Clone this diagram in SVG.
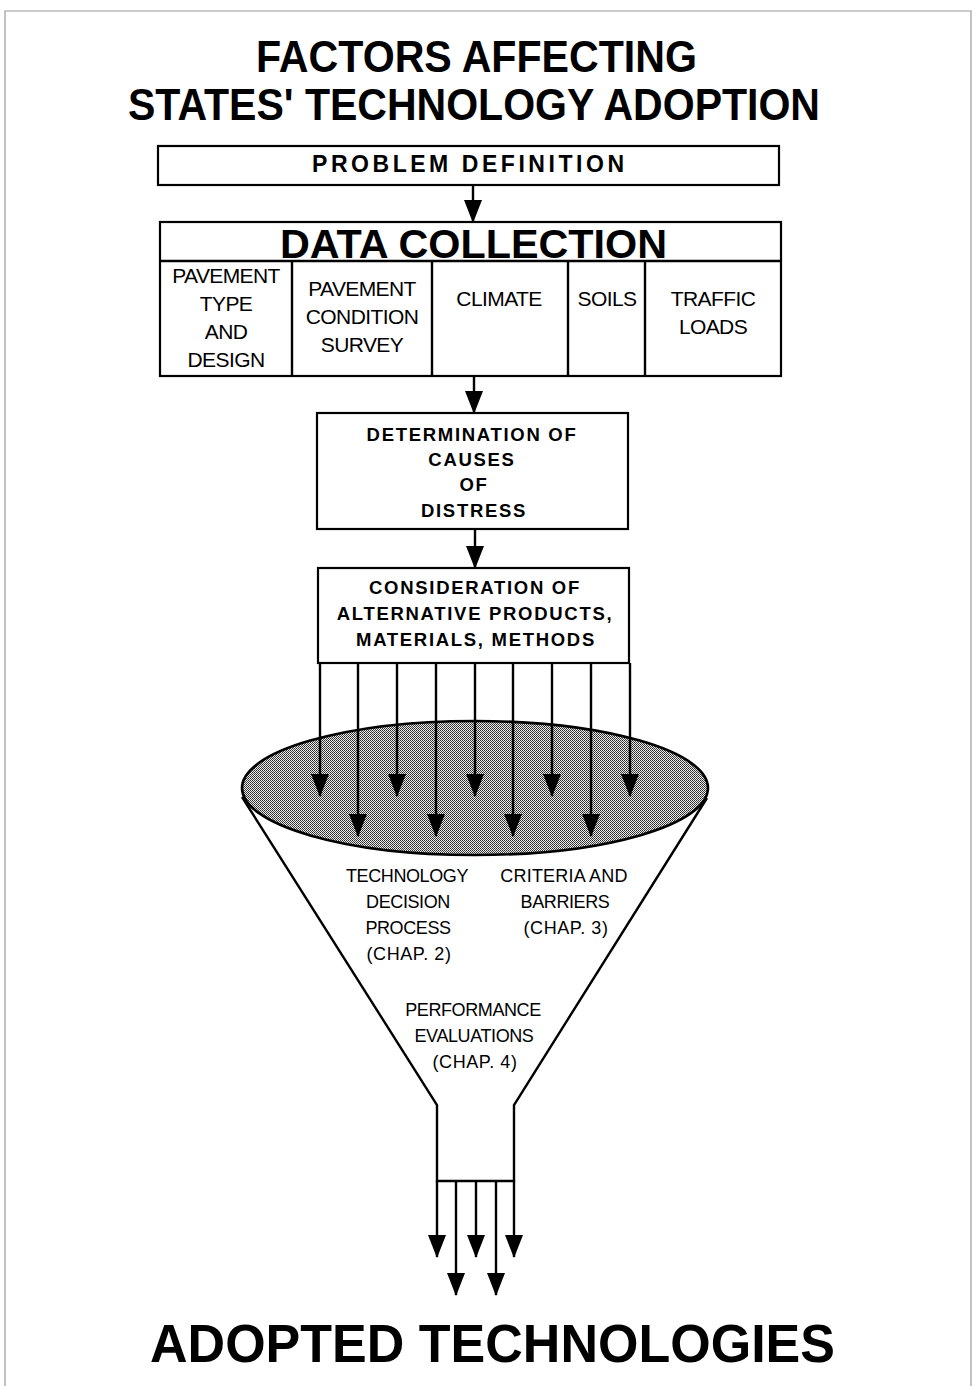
<svg xmlns="http://www.w3.org/2000/svg" width="972" height="1386" viewBox="0 0 972 1386">
<style>
.box{fill:#fff;stroke:#000;stroke-width:2.2}
.ln{stroke:#000;stroke-width:2.4;fill:none}
.sans{font-family:"Liberation Sans",Arial,Helvetica,sans-serif;fill:#000}
.b{font-weight:bold}
.cell{font-size:21px;letter-spacing:-0.6px;text-anchor:middle}
.sm{font-size:18.5px;font-weight:bold;letter-spacing:1.7px;text-anchor:middle}
.fn{font-size:18px;letter-spacing:-0.4px;text-anchor:middle}
.big{text-anchor:middle;font-weight:bold}
</style>
<defs>
<marker id="ah" markerUnits="userSpaceOnUse" markerWidth="23" markerHeight="19" viewBox="0 -9.5 23 19" refX="22" refY="0" orient="auto">
<path d="M0,-9 L23,0 L0,9 z" fill="#000"/>
</marker>
<pattern id="dots" patternUnits="userSpaceOnUse" width="2" height="2">
<rect width="2" height="2" fill="#ececec"/>
<rect x="0" y="0" width="1" height="1" fill="#2a2a2a"/>
<rect x="1" y="1" width="1" height="1" fill="#444"/>
</pattern>
</defs>
<rect width="972" height="1386" fill="#fff"/>
<g id="frame" stroke="#999" stroke-width="1.2" fill="none">
<path d="M5,1386 L5,11 L971,11 L971,1386"/>
</g>
<g id="title" class="sans big">
<text x="476.5" y="72" font-size="44" textLength="441" lengthAdjust="spacingAndGlyphs">FACTORS AFFECTING</text>
<text x="474" y="120" font-size="44" textLength="692" lengthAdjust="spacingAndGlyphs">STATES' TECHNOLOGY ADOPTION</text>
</g>
<g id="problem-definition">
<rect class="box" x="158" y="146" width="621" height="39"/>
<text class="sans b" x="468" y="172" font-size="23" text-anchor="middle" textLength="312">PROBLEM  DEFINITION</text>
</g>
<g id="data-collection">
<rect class="box" x="160" y="222" width="621" height="154"/>
<path class="ln" d="M160,261 H781 M292,261 V376 M432,261 V376 M568,261 V376 M645,261 V376" stroke-width="2"/>
<text class="sans big" x="473.5" y="258" font-size="41" textLength="387" lengthAdjust="spacingAndGlyphs">DATA COLLECTION</text>
<g class="sans cell">
<text x="226" y="283">PAVEMENT</text>
<text x="226" y="311">TYPE</text>
<text x="226" y="339">AND</text>
<text x="226" y="367">DESIGN</text>
<text x="362" y="296">PAVEMENT</text>
<text x="362" y="324">CONDITION</text>
<text x="362" y="352">SURVEY</text>
<text x="499" y="306">CLIMATE</text>
<text x="607" y="306">SOILS</text>
<text x="713" y="306">TRAFFIC</text>
<text x="713" y="334">LOADS</text>
</g>
</g>
<g id="determination">
<rect class="box" x="317" y="413" width="311" height="116"/>
<g class="sans sm">
<text x="472" y="441">DETERMINATION  OF</text>
<text x="472" y="466">CAUSES</text>
<text x="474" y="491">OF</text>
<text x="474" y="517">DISTRESS</text>
</g>
</g>
<g id="consideration">
<rect class="box" x="318" y="568" width="311" height="95"/>
<g class="sans sm">
<text x="475" y="594">CONSIDERATION  OF</text>
<text x="475" y="620">ALTERNATIVE  PRODUCTS,</text>
<text x="476" y="646">MATERIALS,  METHODS</text>
</g>
</g>
<g id="funnel">
<path class="ln" d="M242,797 L437,1105 L437,1181 H514 L514,1105 L707,798"/>
<ellipse cx="475" cy="788" rx="233" ry="67" fill="url(#dots)" stroke="#000" stroke-width="2.6"/>
<g class="sans fn">
<text x="407" y="882">TECHNOLOGY</text>
<text x="408" y="908">DECISION</text>
<text x="408" y="934">PROCESS</text>
<text x="409" y="960" letter-spacing="0.6">(CHAP. 2)</text>
<text x="564" y="882" letter-spacing="0.2">CRITERIA AND</text>
<text x="565" y="908">BARRIERS</text>
<text x="566" y="934" letter-spacing="0.6">(CHAP. 3)</text>
<text x="473" y="1016">PERFORMANCE</text>
<text x="474" y="1042">EVALUATIONS</text>
<text x="475" y="1068" letter-spacing="0.6">(CHAP. 4)</text>
</g>
</g>
<g id="connectors" class="ln" marker-end="url(#ah)">
<line x1="473" y1="185" x2="473" y2="222"/>
<line x1="474" y1="376" x2="474" y2="413"/>
<line x1="475" y1="529" x2="475" y2="568"/>
<line x1="320" y1="663" x2="320" y2="796"/>
<line x1="358" y1="663" x2="358" y2="836"/>
<line x1="397" y1="663" x2="397" y2="796"/>
<line x1="436" y1="663" x2="436" y2="836"/>
<line x1="475" y1="663" x2="475" y2="796"/>
<line x1="513" y1="663" x2="513" y2="836"/>
<line x1="552" y1="663" x2="552" y2="796"/>
<line x1="591" y1="663" x2="591" y2="836"/>
<line x1="630" y1="663" x2="630" y2="796"/>
<line x1="437" y1="1181" x2="437" y2="1257"/>
<line x1="456" y1="1181" x2="456" y2="1295"/>
<line x1="476" y1="1181" x2="476" y2="1257"/>
<line x1="496" y1="1181" x2="496" y2="1295"/>
<line x1="514" y1="1181" x2="514" y2="1257"/>
</g>
<g id="adopted">
<text class="sans big" x="492.5" y="1362" font-size="54" textLength="685" lengthAdjust="spacingAndGlyphs">ADOPTED TECHNOLOGIES</text>
</g>
</svg>
